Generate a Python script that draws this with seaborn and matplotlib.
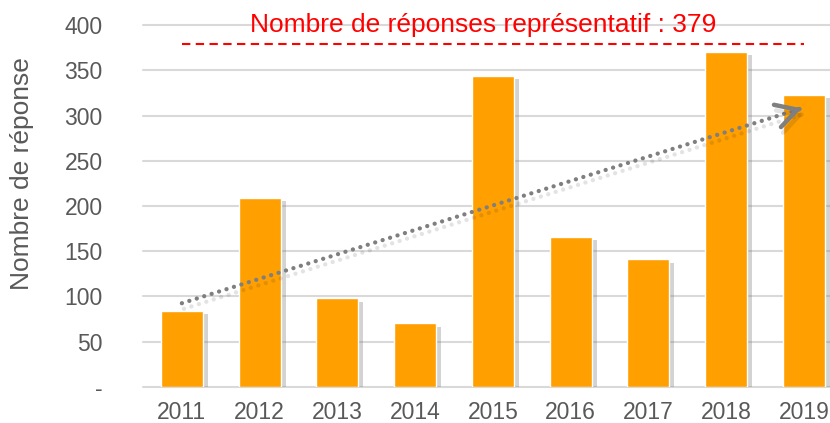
import numpy as np
import pandas as pd
import matplotlib
matplotlib.use("Agg")
import matplotlib.pyplot as plt
import matplotlib.patheffects as pe
import seaborn as sns

# Survey responses per year
years = ["2011", "2012", "2013", "2014", "2015", "2016", "2017", "2018", "2019"]
responses = [84, 209, 98, 70, 344, 166, 141, 371, 323]
representative = 379
y_ticks = [0, 50, 100, 150, 200, 250, 300, 350, 400]
y_tick_labels = ["-", "50", "100", "150", "200", "250", "300", "350", "400"]

sns.set_theme(style="white")
plt.rcParams["font.family"] = ["Liberation Sans", "DejaVu Sans"]

GRAY_TXT = "#595959"
GRID = "#D9D9D9"
ORANGE = "#FF9F00"

fig = plt.figure(figsize=(8.30, 4.23), dpi=100)
ax = fig.add_axes([143 / 830, 36.3 / 423, 687 / 830, 361.4 / 423])

df = pd.DataFrame({"year": years, "n": responses})
sns.barplot(data=df, x="year", y="n", color=ORANGE, saturation=1, width=0.54,
            ax=ax, zorder=3)
for bar in ax.patches:
    bar.set_path_effects([
        pe.SimplePatchShadow(offset=(3.5, -2.5), shadow_rgbFace="#707070", alpha=0.3),
        pe.Normal(),
    ])

ax.set_xlim(-0.5, 8.334)
ax.set_ylim(0, 400)
ax.set_yticks(y_ticks)
ax.set_yticklabels(y_tick_labels)
ax.set_xlabel("")
ax.set_ylabel("")

ax.grid(axis="y", color=GRID, linewidth=1.5, zorder=0)
ax.set_axisbelow(True)
for gl in ax.get_ygridlines():
    gl.set_clip_on(False)
for side in ["left", "right", "top", "bottom"]:
    ax.spines[side].set_visible(False)

ax.tick_params(axis="both", length=0, colors=GRAY_TXT, labelsize=16.5)
ax.tick_params(axis="y", pad=29)
ax.tick_params(axis="x", pad=10.5)

fig.text(22 / 830, 0.59, "Nombre de réponse", rotation=90, ha="center",
         va="center", fontsize=19, color=GRAY_TXT)

# Representative sample threshold
ax.plot([0, 8], [representative, representative], color="#FF0000", lw=1.5,
        linestyle=(0, (4, 2.6)), zorder=4, clip_on=False)
ax.text(3.87, 400, f"Nombre de réponses représentatif : {representative}",
        ha="center", va="center", fontsize=19, color="#FF0000", zorder=5,
        clip_on=False)

# Linear trend of the responses
xs = np.arange(len(responses))
slope, intercept = np.polyfit(xs, responses, 1)
x_end = 7.97
tx = np.array([0, x_end - 0.08])
trend_shadow = [pe.SimpleLineShadow(offset=(1.5, -4), alpha=0.12), pe.Normal()]
ax.plot(tx, intercept + slope * tx, color="#7F7F7F", lw=3.1,
        linestyle=(0, (0.01, 1.8)), dash_capstyle="round", zorder=6,
        path_effects=trend_shadow)
ax.annotate("", xy=(x_end, intercept + slope * x_end),
            xytext=(x_end - 0.03, intercept + slope * (x_end - 0.03)),
            arrowprops=dict(arrowstyle="->,head_length=0.75,head_width=0.42",
                            color="#7F7F7F", lw=3.2, mutation_scale=20,
                            shrinkA=0, shrinkB=0, capstyle="round",
                            path_effects=trend_shadow),
            zorder=6)

fig.savefig("out.png", dpi=100)
